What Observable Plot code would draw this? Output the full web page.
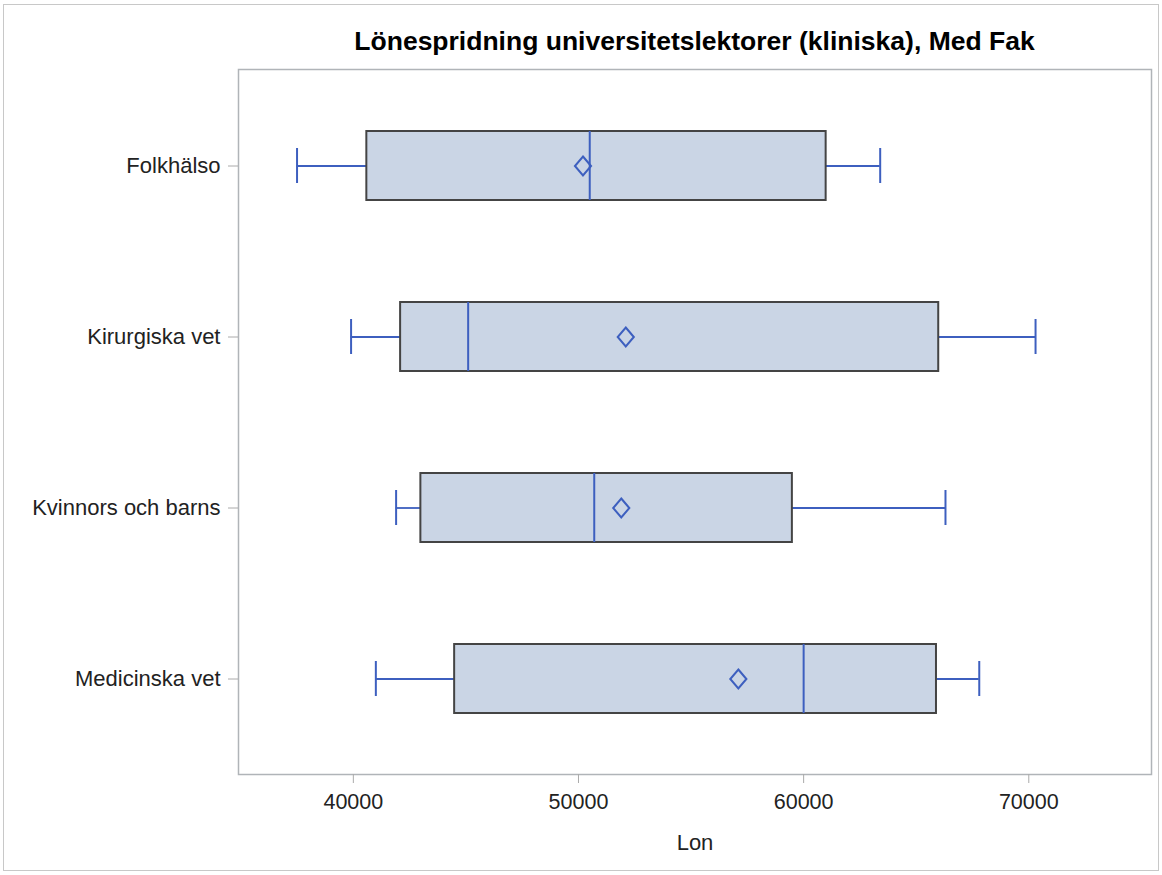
<!DOCTYPE html>
<html>
<head>
<meta charset="utf-8">
<script src="https://cdn.jsdelivr.net/npm/d3@7"></script>
<script src="https://cdn.jsdelivr.net/npm/@observablehq/plot@0.6"></script>
<style>
  html, body { margin: 0; padding: 0; background: #fff; }
  #wrap { position: relative; width: 1162px; height: 875px; font-family: "Liberation Sans", Arial, sans-serif; }
  #border { position: absolute; left: 3px; top: 4px; width: 1156px; height: 867px; border: 1px solid #c8c8c8; box-sizing: border-box; }
  #title { position: absolute; left: 238px; width: 913px; top: 26px; text-align: center; font-size: 26.5px; line-height: 30px; font-weight: bold; color: #000; }
  #chart { position: absolute; left: 0; top: 0; }
</style>
</head>
<body>
<div id="wrap">
  <div id="border"></div>
  <div id="chart"></div>
  <div id="title">Lönespridning universitetslektorer (kliniska), Med Fak</div>
</div>
<script>
const categories = ["Folkhälso", "Kirurgiska vet", "Kvinnors och barns", "Medicinska vet"];
const whiskerLow  = [37500, 39900, 41900, 41000];
const q1          = [40600, 42100, 43000, 44500];
const median      = [50500, 45100, 50700, 60000];
const mean        = [50200, 52100, 51900, 57100];
const q3          = [61000, 66000, 59500, 65900];
const whiskerHigh = [63400, 70300, 66300, 67800];
const xTicks = [40000, 50000, 60000, 70000];
const xLabel = "Lon";

const rows = categories.map((c, i) => ({
  cat: c, lo: whiskerLow[i], q1: q1[i], med: median[i], mean: mean[i], q3: q3[i], hi: whiskerHigh[i]
}));

const blue = "#3d5fbf";
const tallDiamond = {
  draw(context, size) {
    const r = Math.sqrt(size / Math.PI);
    const w = r * 0.85;
    context.moveTo(0, -r);
    context.lineTo(w, 0);
    context.lineTo(0, r);
    context.lineTo(-w, 0);
    context.closePath();
  }
};

const chart = Plot.plot({
  width: 1162,
  height: 875,
  marginLeft: 238,
  marginRight: 11,
  marginTop: 69,
  marginBottom: 101,
  style: { fontFamily: "'Liberation Sans', Arial, sans-serif", fontSize: "22px", color: "#222", background: "transparent" },
  x: { domain: [34900, 75450], ticks: xTicks, tickFormat: d3.format("d") },
  y: { type: "band", domain: categories, paddingInner: 0.599, paddingOuter: 0.357, label: null },
  marks: [
    Plot.frame({ stroke: "#b0b4b8", strokeWidth: 1.5 }),
    Plot.axisX({ ticks: xTicks, tickFormat: d3.format("d"), tickSize: 9, tickPadding: 10, stroke: "#aaa", fill: "#222", fontSize: 21.5, label: null }),
    Plot.axisY({ tickSize: 10, tickPadding: 8, stroke: "#aaa", fill: "#222", fontSize: 22, label: null }),
    Plot.ruleY(rows, { y: "cat", x1: "lo", x2: "q1", stroke: blue, strokeWidth: 1.8 }),
    Plot.ruleY(rows, { y: "cat", x1: "q3", x2: "hi", stroke: blue, strokeWidth: 1.8 }),
    Plot.tickX(rows, { y: "cat", x: "lo", stroke: blue, strokeWidth: 2, insetTop: 17, insetBottom: 17 }),
    Plot.tickX(rows, { y: "cat", x: "hi", stroke: blue, strokeWidth: 2, insetTop: 17, insetBottom: 17 }),
    Plot.barX(rows, { y: "cat", x1: "q1", x2: "q3", fill: "#cad5e5", stroke: "#444", strokeWidth: 2 }),
    Plot.tickX(rows, { y: "cat", x: "med", stroke: blue, strokeWidth: 2 }),
    Plot.dot(rows, { y: "cat", x: "mean", symbol: tallDiamond, r: 9.5, stroke: blue, strokeWidth: 2, fill: "none" }),
    Plot.text([xLabel], { frameAnchor: "bottom", dy: 75, text: d => d, fontSize: 22, fill: "#222" })
  ]
});
document.getElementById("chart").appendChild(chart);
</script>
</body>
</html>
